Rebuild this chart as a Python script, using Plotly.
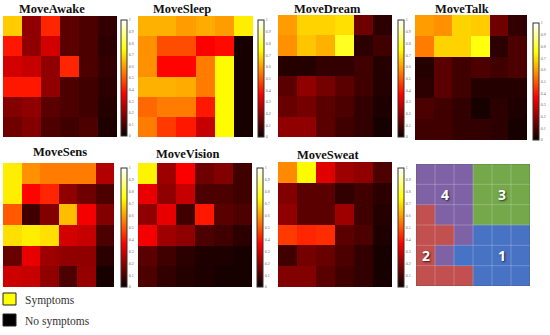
import plotly.graph_objects as go

W, H = 550, 335

# ---------------- data ----------------
titles = ["MoveAwake", "MoveSleep", "MoveDream", "MoveTalk",
          "MoveSens", "MoveVision", "MoveSweat"]

move_awake = [
    [0.67, 0.20, 0.42, 0.12, 0.10, 0.06],
    [0.40, 0.20, 0.30, 0.12, 0.10, 0.05],
    [0.30, 0.28, 0.20, 0.42, 0.10, 0.06],
    [0.40, 0.40, 0.20, 0.10, 0.08, 0.05],
    [0.18, 0.20, 0.12, 0.10, 0.08, 0.04],
    [0.15, 0.18, 0.10, 0.08, 0.10, 0.03],
]
move_sleep = [
    [0.63, 0.63, 0.60, 0.62, 0.60, 0.72],
    [0.58, 0.48, 0.48, 0.36, 0.38, 0.02],
    [0.58, 0.37, 0.37, 0.55, 0.74, 0.02],
    [0.63, 0.63, 0.62, 0.55, 0.74, 0.02],
    [0.52, 0.55, 0.55, 0.40, 0.74, 0.02],
    [0.55, 0.45, 0.40, 0.28, 0.74, 0.02],
]
move_dream = [
    [0.60, 0.68, 0.68, 0.70, 0.15, 0.05],
    [0.58, 0.66, 0.63, 0.78, 0.05, 0.08],
    [0.04, 0.04, 0.06, 0.06, 0.08, 0.04],
    [0.12, 0.20, 0.16, 0.12, 0.08, 0.04],
    [0.14, 0.16, 0.12, 0.10, 0.06, 0.03],
    [0.20, 0.20, 0.12, 0.08, 0.06, 0.02],
]
move_talk = [
    [0.60, 0.58, 0.68, 0.67, 0.15, 0.06],
    [0.55, 0.68, 0.68, 0.76, 0.05, 0.10],
    [0.04, 0.12, 0.08, 0.10, 0.08, 0.10],
    [0.05, 0.12, 0.08, 0.04, 0.04, 0.04],
    [0.10, 0.08, 0.06, 0.02, 0.05, 0.03],
    [0.08, 0.08, 0.06, 0.06, 0.05, 0.02],
]
move_sens = [
    [0.72, 0.58, 0.55, 0.55, 0.55, 0.25],
    [0.72, 0.37, 0.42, 0.20, 0.15, 0.10],
    [0.50, 0.08, 0.18, 0.65, 0.35, 0.18],
    [0.70, 0.72, 0.70, 0.30, 0.28, 0.10],
    [0.14, 0.33, 0.22, 0.20, 0.20, 0.05],
    [0.29, 0.28, 0.20, 0.10, 0.21, 0.02],
]
move_vision = [
    [0.73, 0.22, 0.36, 0.15, 0.18, 0.08],
    [0.33, 0.20, 0.28, 0.10, 0.10, 0.08],
    [0.20, 0.33, 0.08, 0.40, 0.12, 0.10],
    [0.35, 0.22, 0.20, 0.10, 0.08, 0.05],
    [0.12, 0.08, 0.05, 0.03, 0.03, 0.02],
    [0.10, 0.06, 0.04, 0.03, 0.02, 0.02],
]
move_sweat = [
    [0.57, 0.74, 0.32, 0.22, 0.20, 0.10],
    [0.18, 0.12, 0.12, 0.06, 0.08, 0.05],
    [0.20, 0.12, 0.12, 0.22, 0.08, 0.04],
    [0.45, 0.42, 0.43, 0.12, 0.10, 0.03],
    [0.08, 0.16, 0.14, 0.10, 0.06, 0.02],
    [0.18, 0.18, 0.12, 0.08, 0.06, 0.02],
]
heat_data = [move_awake, move_sleep, move_dream, move_talk,
             move_sens, move_vision, move_sweat]

# cluster map (1..4)
cluster_map = [
    [4, 4, 4, 3, 3, 3],
    [4, 4, 4, 3, 3, 3],
    [2, 4, 4, 3, 3, 3],
    [2, 2, 4, 1, 1, 1],
    [2, 4, 1, 1, 1, 1],
    [2, 2, 2, 1, 1, 1],
]
cluster_names = ["1", "2", "3", "4"]
cluster_label_cells = [(4, 4), (4, 0), (1, 4), (1, 1)]  # (row, col)
cluster_colors = ["#4873c4", "#c1504e", "#74a84b", "#7f62a6"]

colorbar_ticks = [0, 0.1, 0.2, 0.3, 0.4, 0.5, 0.6, 0.7, 0.8, 0.9, 1]
colorbar_ticktext = ["0", "0.1", "0.2", "0.3", "0.4", "0.5", "0.6",
                     "0.7", "0.8", "0.9", "1"]

legend_labels = ["Symptoms", "No symptoms"]
legend_colors = ["#ffff00", "#000000"]

# ---------------- layout (pixels) ----------------
boxes = [
    (3, 117, 16, 137), (138, 253, 16, 137), (278, 392, 15, 137), (415, 527, 15, 140),
    (3, 114, 163, 287), (138, 252, 163, 287), (278, 392, 162, 287),
]
cbars = [
    (121, 20, 136), (258, 20, 137), (398, 20, 137), (533, 23, 140),
    (121, 168, 287), (257, 168, 287), (398, 168, 287),
]
title_pos = [(52, 9), (182, 9), (327, 9), (462, 9), (60, 152), (187, 154), (328, 155)]
map_box = (416, 530, 164, 286)

hot = [[0.0, "rgb(10,0,0)"], [0.365, "rgb(255,0,0)"],
       [0.746, "rgb(255,255,0)"], [1.0, "rgb(255,255,255)"]]

def px(x):
    return x / W

def py(y):
    return 1 - y / H

fig = go.Figure()
layout_axes = {}
annotations = []
shapes = []

for i, (z, name) in enumerate(zip(heat_data, titles)):
    k = i + 1
    xa = "x" if k == 1 else f"x{k}"
    ya = "y" if k == 1 else f"y{k}"
    x0, x1, y0, y1 = boxes[i]
    cx, cy0, cy1 = cbars[i]
    fig.add_trace(go.Heatmap(
        z=z, xaxis=xa, yaxis=ya, colorscale=hot, zmin=0, zmax=1,
        colorbar=dict(
            x=px(cx), xanchor="left", y=py(cy0), yanchor="top",
            len=cy1 - cy0, lenmode="pixels", thickness=6, thicknessmode="pixels",
            xpad=0, ypad=0, outlinewidth=1, outlinecolor="#333",
            tickvals=colorbar_ticks, ticktext=colorbar_ticktext,
            ticks="", tickfont=dict(size=4, color="#666", family="Liberation Serif"),
        ),
        hoverinfo="z",
    ))
    layout_axes[("xaxis" if k == 1 else f"xaxis{k}")] = dict(
        domain=[px(x0), px(x1)], anchor=ya, showticklabels=False, showgrid=False,
        zeroline=False, ticks="", range=[-0.5, 5.5])
    layout_axes[("yaxis" if k == 1 else f"yaxis{k}")] = dict(
        domain=[py(y1), py(y0)], anchor=xa, showticklabels=False, showgrid=False,
        zeroline=False, ticks="", range=[5.5, -0.5])
    tx, ty = title_pos[i]
    annotations.append(dict(
        text=f"<b>{name}</b>", x=px(tx), y=py(ty), xref="paper", yref="paper",
        showarrow=False, xanchor="center", yanchor="middle",
        font=dict(family="Liberation Serif", size=12.5, color="#111")))

# cluster map
n = len(cluster_names)
disc = []
for j, c in enumerate(cluster_colors):
    disc.append([j / n, c])
    disc.append([(j + 1) / n, c])
fig.add_trace(go.Heatmap(
    z=cluster_map, xaxis="x8", yaxis="y8", colorscale=disc, zmin=0.5, zmax=4.5,
    showscale=False, hoverinfo="z"))
x0, x1, y0, y1 = map_box
layout_axes["xaxis8"] = dict(domain=[px(x0), px(x1)], anchor="y8", showticklabels=False,
                             showgrid=False, zeroline=False, ticks="", range=[-0.5, 5.5])
layout_axes["yaxis8"] = dict(domain=[py(y1), py(y0)], anchor="x8", showticklabels=False,
                             showgrid=False, zeroline=False, ticks="", range=[5.5, -0.5])
ncols = len(cluster_map[0])
nrows = len(cluster_map)
for c in range(1, ncols):
    shapes.append(dict(type="line", xref="x8", yref="y8", x0=c - 0.5, x1=c - 0.5,
                       y0=-0.5, y1=nrows - 0.5,
                       line=dict(color="rgba(255,255,255,0.22)", width=1)))
for r in range(1, nrows):
    shapes.append(dict(type="line", xref="x8", yref="y8", y0=r - 0.5, y1=r - 0.5,
                       x0=-0.5, x1=ncols - 0.5,
                       line=dict(color="rgba(255,255,255,0.22)", width=1)))
shapes.append(dict(type="rect", xref="x8", yref="y8", x0=-0.5, x1=ncols - 0.5,
                   y0=-0.5, y1=nrows - 0.5, line=dict(color="rgba(60,60,60,0.35)", width=1)))
for lab, (r, c) in zip(cluster_names, cluster_label_cells):
    annotations.append(dict(
        text=f"<b>{lab}</b>", x=c, y=r, xref="x8", yref="y8", showarrow=False,
        font=dict(family="Open Sans", size=14, color="white",
                  shadow="1px 1px 2px rgba(0,0,0,0.7)")))

# legend
leg_y = [299, 320]
for lab, col, yy in zip(legend_labels, legend_colors, leg_y):
    shapes.append(dict(type="rect", xref="paper", yref="paper",
                       x0=px(3), x1=px(16), y0=py(yy + 6), y1=py(yy - 6),
                       fillcolor=col, line=dict(color="#222", width=1)))
    annotations.append(dict(
        text=lab, x=px(23), y=py(yy + 1), xref="paper", yref="paper", showarrow=False,
        xanchor="left", yanchor="middle",
        font=dict(family="Liberation Serif", size=11.5, color="#333")))

fig.update_layout(
    width=W, height=H, margin=dict(l=0, r=0, t=0, b=0),
    paper_bgcolor="white", plot_bgcolor="white",
    showlegend=False, annotations=annotations, shapes=shapes,
    **layout_axes)

fig.write_html("out.html", config={"displayModeBar": False},
               post_script="document.body.style.margin='0';document.body.style.overflow='hidden';")
